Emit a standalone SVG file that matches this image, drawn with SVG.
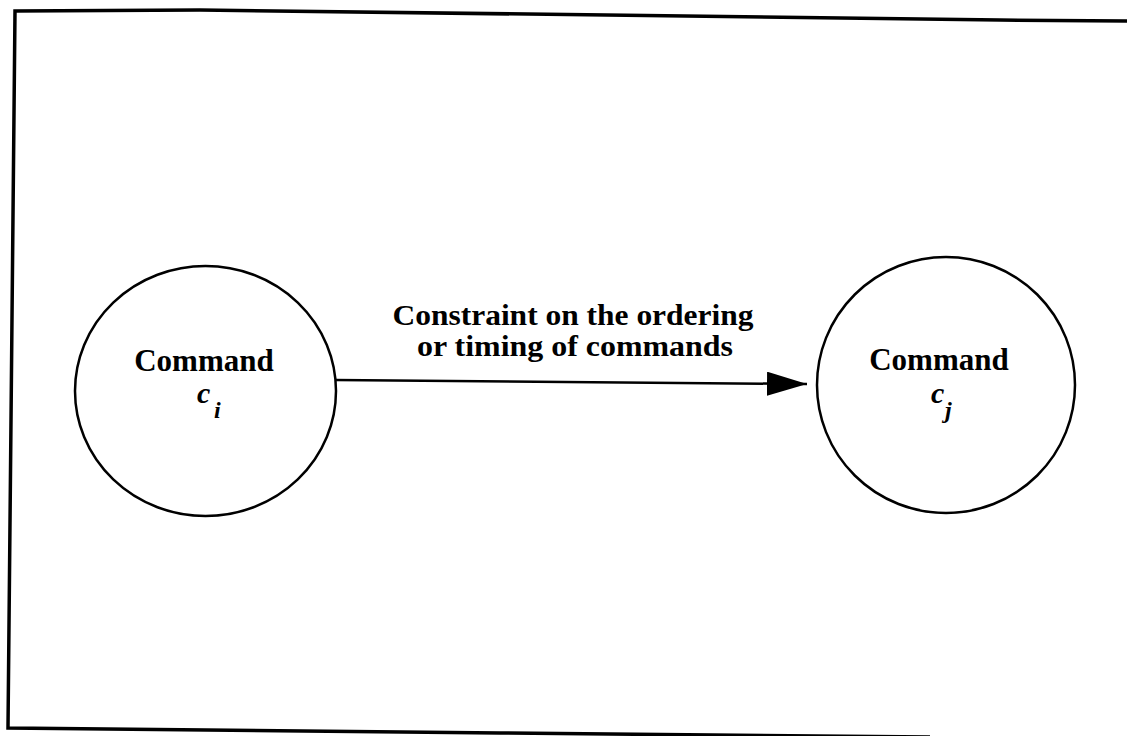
<svg xmlns="http://www.w3.org/2000/svg" width="1127" height="736" viewBox="0 0 1127 736">
<defs>
<style>
.frame{fill:none;stroke:#000;stroke-width:3.5}
.node{fill:#fff;stroke:#000;stroke-width:2.5}
.edge{fill:none;stroke:#000;stroke-width:2.5}
.t{font-family:"Liberation Serif","Times New Roman",serif;font-weight:bold;font-size:31px;fill:#000}
.l{font-family:"Liberation Serif","Times New Roman",serif;font-weight:bold;font-size:30px;fill:#000}
.v{font-family:"Liberation Serif","Times New Roman",serif;font-weight:bold;font-style:italic;font-size:30px;fill:#000}
.s{font-family:"Liberation Serif","Times New Roman",serif;font-weight:bold;font-style:italic;font-size:24px;fill:#000}
</style>
<marker id="arr" viewBox="0 0 40 24" refX="40" refY="12" markerWidth="40" markerHeight="24" markerUnits="userSpaceOnUse" orient="auto">
<path d="M0,0 L40,12 L0,24 Z" fill="#000"/>
</marker>
</defs>
<rect width="1127" height="736" fill="#fff"/>
<polyline class="frame" points="1127,21 1000,20 200,10 15,11 8,728 500,733 930,737"/>
<g id="connectors">
<line class="edge" x1="335" y1="380" x2="807" y2="384" marker-end="url(#arr)"/>
<text class="l" x="573" y="325" text-anchor="middle" textLength="361" lengthAdjust="spacingAndGlyphs">Constraint on the ordering</text>
<text class="l" x="575" y="356" text-anchor="middle" textLength="316" lengthAdjust="spacingAndGlyphs">or timing of commands</text>
</g>
<g id="node-ci">
<ellipse class="node" cx="205.5" cy="391" rx="130.5" ry="125"/>
<text class="t" x="204" y="371" text-anchor="middle">Command</text>
<text class="v" x="197" y="403">c</text>
<text class="s" x="214" y="418">i</text>
</g>
<g id="node-cj">
<ellipse class="node" cx="946" cy="385" rx="129" ry="128"/>
<text class="t" x="939" y="370" text-anchor="middle">Command</text>
<text class="v" x="931" y="403">c</text>
<text class="s" x="945" y="418">j</text>
</g>
</svg>
